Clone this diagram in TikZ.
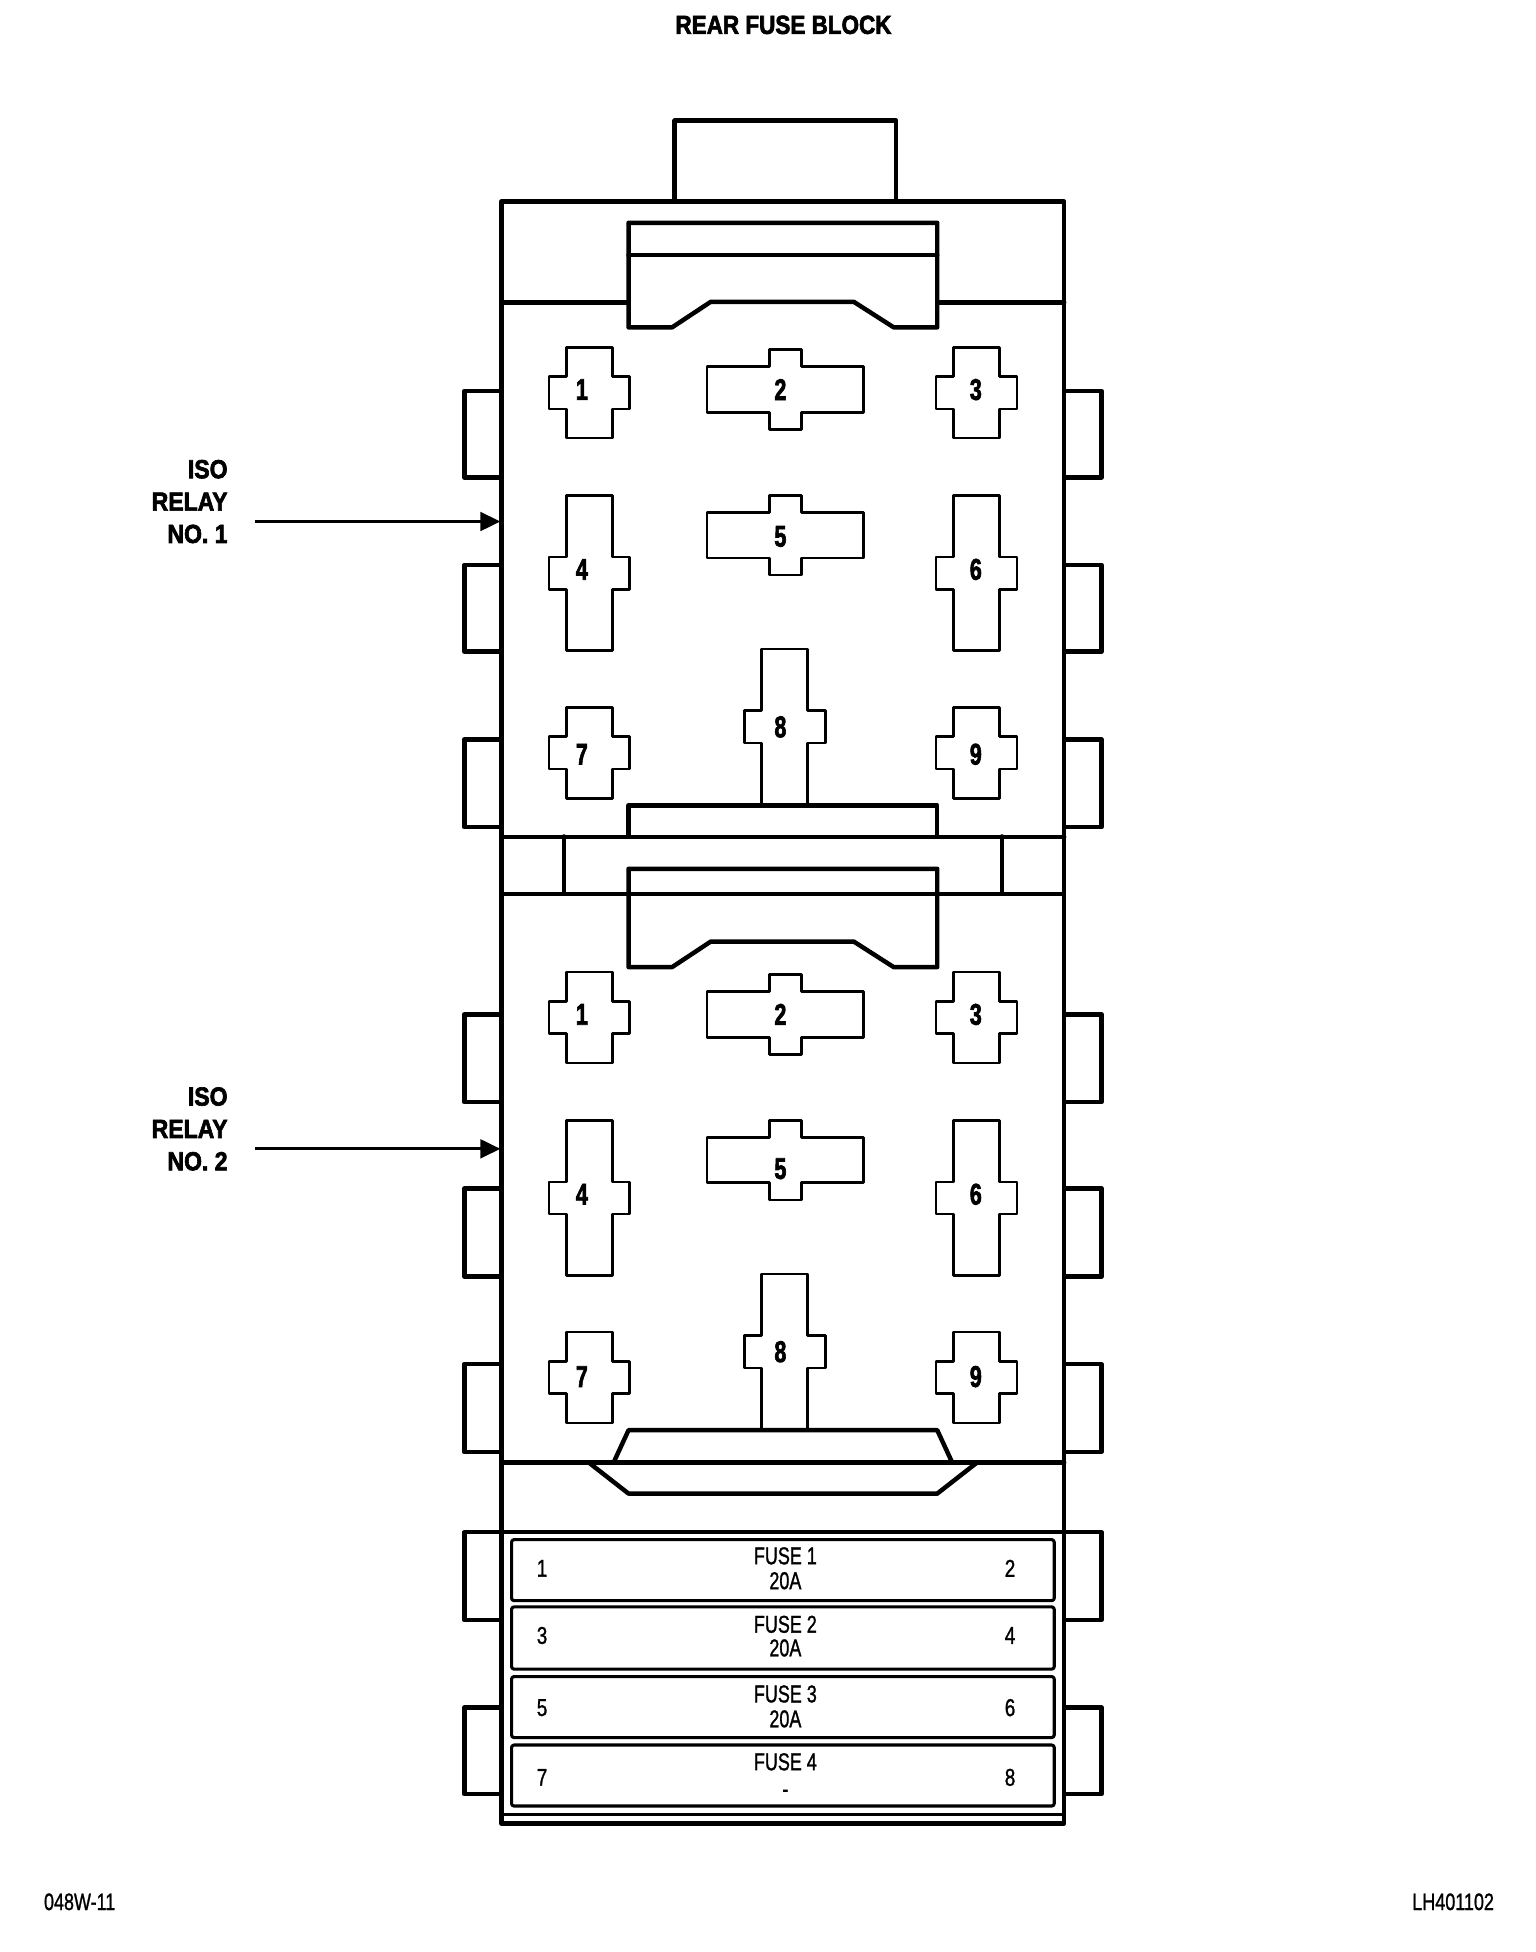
\documentclass[tikz,border=0pt]{standalone}
\usepackage{fontspec}
\setmainfont{Liberation Sans}[BoldFeatures={FakeBold=2.6},UprightFeatures={FakeBold=1.3}]
\usetikzlibrary{arrows.meta}
\tikzset{
  thick line/.style={line width=3.6pt,line join=round,line cap=round},
  pin line/.style={line width=2.1pt,line join=round,fill=white},
  thin line/.style={line width=2.2pt,line join=round},
  fuse box/.style={line width=2.5pt,line join=round,rounded corners=2pt},
  pinlabel/.style={font=\bfseries\fontsize{24}{24}\selectfont,xscale=0.72,inner sep=0pt},
  bigtext/.style={font=\bfseries\fontsize{21}{21}\selectfont,xscale=0.86,inner sep=0pt},
  reltext/.style={font=\bfseries\fontsize{21}{21}\selectfont,xscale=0.88,inner sep=0pt,anchor=east},
  smalltext/.style={font=\fontsize{19.5}{19.5}\selectfont,xscale=0.74,inner sep=0pt},
  fusenum/.style={font=\fontsize{19.5}{19.5}\selectfont,xscale=0.78,inner sep=0pt},
  footer/.style={font=\fontsize{19}{19}\selectfont,xscale=0.76,inner sep=0pt},
}
% cross: cx cy halfwidth-vert halfheight-vert halfwidth-horiz halfheight-horiz
\newcommand{\crosspin}[6]{%
  \draw[pin line] (#1-#3,-#2+#4) -- (#1+#3,-#2+#4) -- (#1+#3,-#2+#6) -- (#1+#5,-#2+#6)
    -- (#1+#5,-#2-#6) -- (#1+#3,-#2-#6) -- (#1+#3,-#2-#4) -- (#1-#3,-#2-#4)
    -- (#1-#3,-#2-#6) -- (#1-#5,-#2-#6) -- (#1-#5,-#2+#6) -- (#1-#3,-#2+#6) -- cycle;}
% args: y offset, name prefix, label-5 y, label-7/9 y
\newcommand{\relayblock}[4]{%
  \begin{scope}[yshift=-#1pt]
    \crosspin{473.5}{315.5}{18.5}{36.5}{32.5}{13}
    \crosspin{631}{313}{13}{32.2}{63}{18.5}
    \crosspin{784.5}{315.5}{18.5}{36.5}{32.5}{13}
    \crosspin{473.5}{460.5}{18.5}{62.3}{32.5}{13}
    \crosspin{631}{430}{13}{32}{63}{18.2}
    \crosspin{784.5}{460.5}{18.5}{62.3}{32.5}{13}
    \crosspin{473.5}{604.8}{18.5}{36.5}{32.5}{13}
    \crosspin{630.5}{584}{18.5}{62.5}{32.5}{13}
    \crosspin{784.5}{604.8}{18.5}{36.5}{32.5}{13}
    \node[pinlabel] (#2p1) at (467.5,-313) {1};
    \node[pinlabel] (#2p2) at (627,-313) {2};
    \node[pinlabel] (#2p3) at (784,-313) {3};
    \node[pinlabel] (#2p4) at (467.5,-457.5) {4};
    \node[pinlabel] (#2p5) at (627,-#3) {5};
    \node[pinlabel] (#2p6) at (784,-457.5) {6};
    \node[pinlabel] (#2p7) at (467.5,-#4) {7};
    \node[pinlabel] (#2p8) at (627,-584) {8};
    \node[pinlabel] (#2p9) at (784,-#4) {9};
  \end{scope}}
\newcommand{\tabs}[2]{%
  \draw[thick line] (403,-#1) -- (373,-#1) -- (373,-#2) -- (403,-#2);
  \draw[thick line] (855,-#1) -- (885,-#1) -- (885,-#2) -- (855,-#2);}
\newcommand{\latch}[3]{% top, mid, bottom
  \draw[thick line] (505,-#1) -- (753,-#1) -- (753,-#3) -- (718,-#3) -- (686,-#2) -- (571,-#2) -- (540,-#3) -- (505,-#3) -- cycle;}
\begin{document}
\begin{tikzpicture}[x=1pt,y=1pt]
\useasboundingbox (0,0) rectangle (1234,-1568.3);
\fill[white] (0,0) rectangle (1234,-1568.3);

% top connector
\draw[thick line] (542,-162) -- (542,-97) -- (720,-97) -- (720,-162);
% body
\draw[thick line] (403,-162) rectangle (855,-1465);
\draw[thick line] (403,-243) -- (505,-243);
\draw[thick line] (753,-243) -- (855,-243);
\latch{179}{242.5}{263}
\draw[thick line] (505,-205) -- (753,-205);

% tabs
\tabs{314}{383.5}
\tabs{454}{523.5}
\tabs{594}{664.5}
\tabs{815}{885.5}
\tabs{955}{1025.5}
\tabs{1096}{1166.5}
\tabs{1231}{1301.5}
\tabs{1372}{1441.5}

% relay pins
\relayblock{0}{a}{431}{606}
\relayblock{502}{b}{437}{604}

% middle divider
\draw[thick line,fill=white] (505,-672) -- (505,-647) -- (753,-647) -- (753,-672);
\draw[thick line] (403,-672.5) -- (855,-672.5);
\draw[line width=3.2pt] (403,-718.5) -- (855,-718.5);
\draw[thick line] (453,-672) -- (453,-718);
\draw[thick line] (805,-672) -- (805,-718);
\latch{698}{756.5}{777}

% lower latch
\draw[thick line,fill=white] (493,-1175) -- (505,-1149) -- (753,-1149) -- (765,-1175);
\draw[thick line] (403,-1175) -- (855,-1175);
\draw[thick line] (473,-1175) -- (505,-1200) -- (753,-1200) -- (785,-1175);
\draw[line width=2.8pt] (403,-1231) -- (855,-1231);

% fuses
\draw[fuse box] (411,-1237) rectangle (847,-1286);
\draw[fuse box] (411,-1291) rectangle (847,-1341);
\draw[fuse box] (411,-1347) rectangle (847,-1396);
\draw[fuse box] (411,-1402) rectangle (847,-1451);
\draw[thin line] (403,-1458) -- (855,-1458);

\node[smalltext] (f1) at (631,-1250) {FUSE 1};
\node[smalltext] (r1) at (631,-1270) {20A};
\node[smalltext] (f2) at (631,-1305) {FUSE 2};
\node[smalltext] (r2) at (631,-1324) {20A};
\node[smalltext] (f3) at (631,-1361) {FUSE 3};
\node[smalltext] (r3) at (631,-1381) {20A};
\node[smalltext] (f4) at (631,-1415.5) {FUSE 4};
\node[smalltext] (r4) at (631,-1441) {-};
\node[fusenum] (n1) at (435.5,-1260) {1};
\node[fusenum] (n2) at (811.5,-1260) {2};
\node[fusenum] (n3) at (435.5,-1314) {3};
\node[fusenum] (n4) at (811.5,-1314) {4};
\node[fusenum] (n5) at (435.5,-1372) {5};
\node[fusenum] (n6) at (811.5,-1372) {6};
\node[fusenum] (n7) at (435.5,-1428) {7};
\node[fusenum] (n8) at (811.5,-1428) {8};

% labels and arrows
\node[bigtext] (title) at (629.5,-20) {REAR FUSE BLOCK};
\node[reltext] (l1a) at (183,-377) {ISO};
\node[reltext] (l1b) at (183,-403) {RELAY};
\node[reltext] (l1c) at (183,-429) {NO. 1};
\node[reltext] (l2a) at (183,-881) {ISO};
\node[reltext] (l2b) at (183,-907) {RELAY};
\node[reltext] (l2c) at (183,-933) {NO. 2};
\coordinate (s1) at (205,-419);
\coordinate (e1) at (402,-419);
\coordinate (s2) at (205,-923);
\coordinate (e2) at (402,-923);
\draw[line width=2.2pt,-{Triangle[length=16pt,width=15pt]}] (s1) -- (e1);
\draw[line width=2.2pt,-{Triangle[length=16pt,width=15pt]}] (s2) -- (e2);

\node[footer] (fl) at (64,-1528) {048W-11};
\node[footer] (fr) at (1167.5,-1528) {LH401102};
\end{tikzpicture}
\end{document}
